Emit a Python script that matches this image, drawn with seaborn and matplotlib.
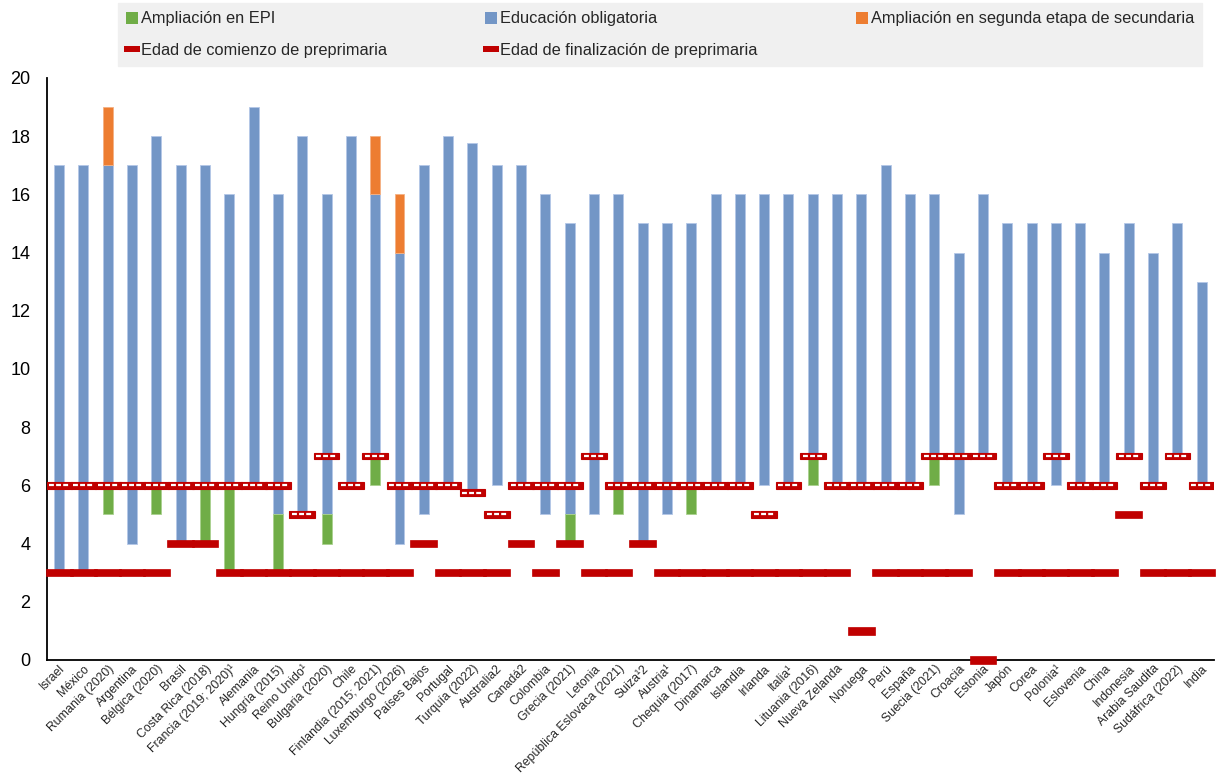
import numpy as np
import matplotlib
matplotlib.use("Agg")
import matplotlib.pyplot as plt
from matplotlib.lines import Line2D
import seaborn as sns

# data (ages)
countries = ["Israel", "México", "Rumania (2020)", "Argentina", "Bélgica (2020)", "Brasil",
             "Costa Rica (2018)", "Francia (2019; 2020)¹", "Alemania", "Hungría (2015)",
             "Reino Unido¹", "Bulgaria (2020)", "Chile", "Finlandia (2015; 2021)",
             "Luxemburgo (2026)", "Países Bajos", "Portugal", "Turquía (2022)", "Australia2",
             "Canadá2", "Colombia", "Grecia (2021)", "Letonia", "República Eslovaca (2021)",
             "Suiza¹2", "Austria¹", "Chequia (2017)", "Dinamarca", "Islandia", "Irlanda",
             "Italia¹", "Lituania (2016)", "Nueva Zelanda", "Noruega", "Perú", "España",
             "Suecia (2021)", "Croacia", "Estonia", "Japón", "Corea", "Polonia¹", "Eslovenia",
             "China", "Indonesia", "Arabia Saudita", "Sudáfrica (2022)", "India"]

nan = np.nan
epi_from = [nan, nan, 5, nan, 5, nan, 4, 3, nan, 3, nan, 4, nan, 6, nan, nan, nan, nan, nan,
            nan, nan, 4, nan, 5, nan, nan, 5, nan, nan, nan, nan, 6, nan, nan, nan, nan, 6,
            nan, nan, nan, nan, nan, nan, nan, nan, nan, nan, nan]
oblig_from = [3, 3, 6, 4, 6, 4, 6, 6, 6, 5, 5, 5, 6, 7, 4, 5, 6, 5.75, 6, 6, 5, 5, 5, 6, 4, 5,
              6, 6, 6, 6, 6, 7, 6, 6, 6, 6, 7, 5, 7, 6, 6, 6, 6, 6, 7, 6, 7, 6]
oblig_to = [17, 17, 17, 17, 18, 17, 17, 16, 19, 16, 18, 16, 18, 16, 14, 17, 18, 17.75, 17, 17,
            16, 15, 16, 16, 15, 15, 15, 16, 16, 16, 16, 16, 16, 16, 17, 16, 16, 14, 16, 15, 15,
            15, 15, 14, 15, 14, 15, 13]
sec_to = [nan, nan, 19, nan, nan, nan, nan, nan, nan, nan, nan, nan, nan, 18, 16, nan, nan, nan,
          nan, nan, nan, nan, nan, nan, nan, nan, nan, nan, nan, nan, nan, nan, nan, nan, nan,
          nan, nan, nan, nan, nan, nan, nan, nan, nan, nan, nan, nan, nan]
pre_start = [3, 3, 3, 3, 3, 4, 4, 3, 3, 3, 3, 3, 3, 3, 3, 4, 3, 3, 3, 4, 3, 4, 3, 3, 4, 3, 3,
             3, 3, 3, 3, 3, 3, 1, 3, 3, 3, 3, 0, 3, 3, 3, 3, 3, 5, 3, 3, 3]
pre_end = [6, 6, 6, 6, 6, 6, 6, 6, 6, 6, 5, 7, 6, 7, 6, 6, 6, 5.75, 5, 6, 6, 6, 7, 6, 6, 6, 6,
           6, 6, 5, 6, 7, 6, 6, 6, 6, 7, 7, 7, 6, 6, 7, 6, 6, 7, 6, 7, 6]

GREEN = "#70AD47"
BLUE = "#7396C6"
ORANGE = "#ED7D31"
RED = "#C00000"

sns.set_style("white")
plt.rcParams["font.family"] = ["Liberation Sans", "DejaVu Sans"]

fig = plt.figure(figsize=(12.18, 7.76), dpi=100)
ax = fig.add_axes([0.0386, 0.1495, 0.958, 0.75])

x = np.arange(len(countries))
epi = np.array(epi_from, dtype=float)
ob0 = np.array(oblig_from, dtype=float)
ob1 = np.array(oblig_to, dtype=float)
sec = np.array(sec_to, dtype=float)
bw = 0.41

# compulsory education
ax.bar(x, ob1 - ob0, bottom=ob0, width=bw, color=BLUE, edgecolor="#B4C7E7", linewidth=0.6, zorder=2)
# EPI extension
m = ~np.isnan(epi)
ax.bar(x[m], ob0[m] - epi[m], bottom=epi[m], width=bw, color=GREEN, edgecolor="#A9D18E",
       linewidth=0.6, zorder=2)
# upper secondary extension
m = ~np.isnan(sec)
ax.bar(x[m], sec[m] - ob1[m], bottom=ob1[m], width=bw, color=ORANGE, edgecolor="#F4B183",
       linewidth=0.6, zorder=2)

# start of pre-primary
st = np.array(pre_start, dtype=float)
ax.bar(x, 0.26, bottom=st - 0.13, width=1.1, color=RED, edgecolor=RED, linewidth=0.5,
       zorder=4, clip_on=False)
# end of pre-primary (red box with white dashes)
en = np.array(pre_end, dtype=float)
ax.bar(x, 0.22, bottom=en - 0.11, width=1.06, color=RED, edgecolor=RED, linewidth=0.8,
       zorder=5)
ax.hlines(en, x - 0.42, x + 0.42, colors="white", linestyles=(0, (2.2, 1.0)), linewidth=1.6,
          zorder=6)

ax.set_xlim(-0.5, len(countries) - 0.5)
ax.set_ylim(0, 20)
ax.set_yticks(np.arange(0, 21, 2))
ax.tick_params(axis="y", direction="in", length=5, width=1, pad=12, labelsize=13, colors="black")
ax.set_xticks(x)
ax.set_xticklabels(countries, rotation=45, ha="right", rotation_mode="anchor", fontsize=8.8)
ax.tick_params(axis="x", length=0, pad=2)
ax.set_xticks(np.arange(-0.5, len(countries), 1), minor=True)
ax.tick_params(axis="x", which="minor", direction="in", length=4, width=1, color="black")

for s in ["top", "right"]:
    ax.spines[s].set_visible(False)
for s in ["left", "bottom"]:
    ax.spines[s].set_color("black")
    ax.spines[s].set_linewidth(1.3)
ax.spines["bottom"].set_zorder(3)

bar_marker = [(-1, -0.35), (1, -0.35), (1, 0.35), (-1, 0.35), (-1, -0.35)]
handles = [
    Line2D([], [], ls="", marker="s", markersize=9, color=GREEN, markeredgewidth=0),
    Line2D([], [], ls="", marker=bar_marker, markersize=11, color=RED, markeredgewidth=0),
    Line2D([], [], ls="", marker="s", markersize=9, color=BLUE, markeredgewidth=0),
    Line2D([], [], ls="", marker=bar_marker, markersize=11, color=RED, markeredgewidth=0),
    Line2D([], [], ls="", marker="s", markersize=9, color=ORANGE, markeredgewidth=0),
]
labels = ["Ampliación en EPI", "Edad de comienzo de preprimaria", "Educación obligatoria",
          "Edad de finalización de preprimaria", "Ampliación en segunda etapa de secundaria"]
leg = fig.legend(handles, labels, ncol=3, loc="upper left",
                 bbox_to_anchor=(0.097, 0.996), frameon=True, fancybox=False,
                 facecolor="#F0F0F0", edgecolor="#F0F0F0", framealpha=1, fontsize=11.8,
                 handlelength=0.7, handletextpad=0.2, borderaxespad=0, labelspacing=1.0,
                 columnspacing=6.0, borderpad=0.5)

fig.savefig("out.png", dpi=100)
